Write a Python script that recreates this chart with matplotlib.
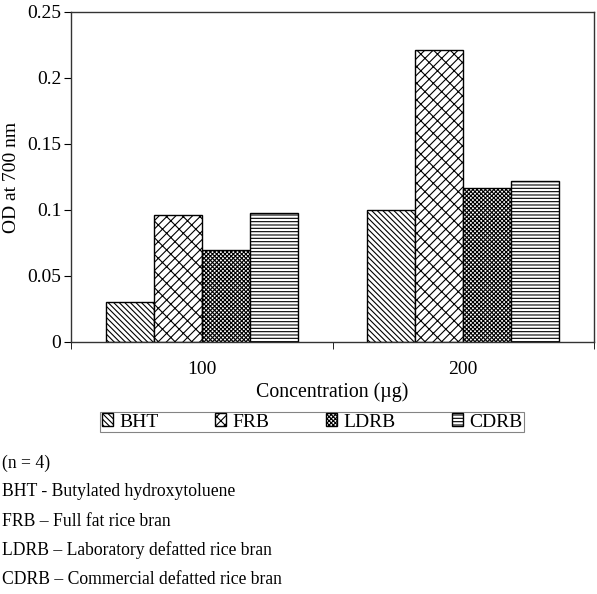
import matplotlib.pyplot as plt
import numpy as np

plt.rcParams['font.family'] = ['Liberation Serif', 'DejaVu Serif']
plt.rcParams['hatch.linewidth'] = 0.8

# OD at 700 nm
concentrations = ["100", "200"]
samples = ["BHT", "FRB", "LDRB", "CDRB"]
bht = [0.030, 0.100]
frb = [0.096, 0.221]
ldrb = [0.070, 0.117]
cdrb = [0.098, 0.122]
series = [bht, frb, ldrb, cdrb]
hatches = ["\\\\\\\\\\\\", "////\\\\", "xxxxxxxx", "-----"]

yticks = [0, 0.05, 0.1, 0.15, 0.2, 0.25]
ytick_labels = ["0", "0.05", "0.1", "0.15", "0.2", "0.25"]

notes = ["(n = 4)",
         "BHT - Butylated hydroxytoluene",
         "FRB \u2013 Full fat rice bran",
         "LDRB \u2013 Laboratory defatted rice bran",
         "CDRB \u2013 Commercial defatted rice bran"]

fig = plt.figure(figsize=(5.97, 5.94), dpi=100)
ax = fig.add_axes([71/597, 1-342/594, 523/597, 330/594])

x = np.arange(len(concentrations))
width = 0.184
for i, vals in enumerate(series):
    ax.bar(x + (i - 1.5) * width, vals, width, facecolor="white",
           edgecolor="black", linewidth=1, hatch=hatches[i], label=samples[i])

ax.set_xlim(-0.5, 1.5)
ax.set_ylim(0, 0.25)
ax.set_yticks(yticks)
ax.set_yticklabels(ytick_labels, fontsize=14)
ax.set_xticks(x)
ax.set_xticklabels(concentrations, fontsize=14)
ax.tick_params(axis="x", length=0, pad=14)
ax.set_xticks([-0.5, 0.5, 1.5], minor=True)
ax.tick_params(axis="x", which="minor", length=5, direction="out")
ax.tick_params(axis="y", length=5, direction="out", pad=2)
for s in ax.spines.values():
    s.set_linewidth(1)
    s.set_color("#333333")

ax.set_xlabel("Concentration (\u00b5g)", fontsize=14.3, labelpad=3)
ax.set_ylabel("OD at 700 nm", fontsize=14, labelpad=5)

leg = ax.legend(loc="center", bbox_to_anchor=(312/597, 1-422/594),
                bbox_transform=fig.transFigure, ncol=4, fontsize=14,
                frameon=True, fancybox=False, edgecolor="#666666",
                handlelength=0.6, handleheight=0.6, columnspacing=2.9,
                handletextpad=0.3, borderpad=0.1, borderaxespad=0)
leg.get_frame().set_linewidth(0.8)

for j, t in enumerate(notes):
    fig.text(2/597, 1-(463 + 29*j)/594, t, fontsize=12.7, va="center", ha="left")

fig.savefig("out.png", dpi=100)
